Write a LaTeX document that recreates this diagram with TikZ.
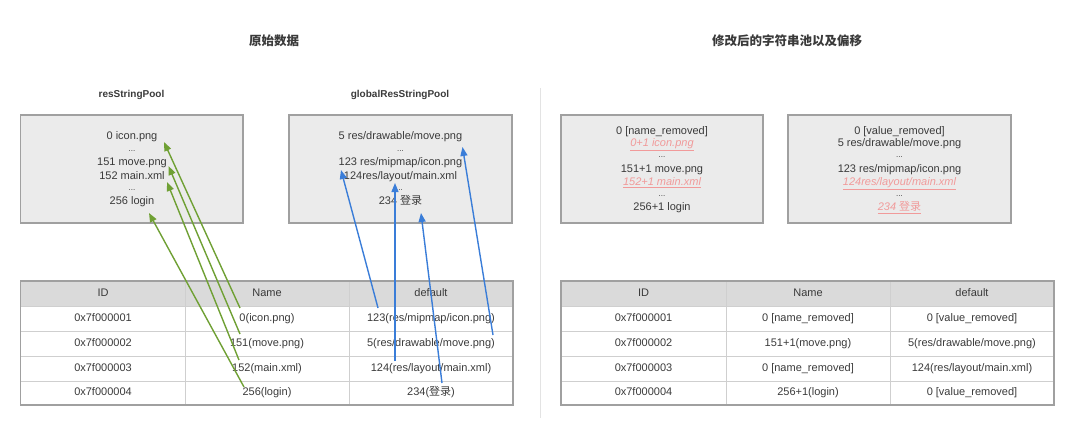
\documentclass[tikz,border=0pt]{standalone}
\usepackage{fontspec}
\setmainfont{Liberation Sans}
\newfontfamily\cjk{Noto Sans CJK SC}
\usetikzlibrary{arrows.meta}
\definecolor{poolfill}{HTML}{EBEBEB}
\definecolor{poolline}{HTML}{A0A0A0}
\definecolor{headfill}{HTML}{DADADA}
\definecolor{gridgray}{HTML}{CFCFCF}
\definecolor{txtgray}{HTML}{3A3A3A}
\definecolor{removedpink}{HTML}{F19A9A}
\definecolor{arrgreen}{HTML}{6FA034}
\definecolor{arrblue}{HTML}{3A7DD8}
\definecolor{divgray}{HTML}{E3E3E3}

\begin{document}
\begin{tikzpicture}[x=1pt, y=-1pt,
  pool/.style={draw=poolline, fill=poolfill, line width=1.5pt},
  entry/.style={text=txtgray, font=\fontsize{11}{13}\selectfont, inner sep=0pt, text height=7.8pt, text depth=2.2pt},
  ellip/.style={text=txtgray, font=\fontsize{8}{9}\selectfont, inner sep=0pt},
  removed/.style={entry, text=removedpink, font=\fontsize{11}{13}\selectfont\itshape},
  heading/.style={text=txtgray, font=\fontsize{12.5}{14}\selectfont\cjk\bfseries},
  pooltitle/.style={text=txtgray, font=\fontsize{10}{12}\selectfont\bfseries},
  gridline/.style={draw=gridgray, line width=1pt},
  tableline/.style={draw=poolline, line width=1.5pt},
  greenarrow/.style={draw=arrgreen, line width=1.4pt, -{Triangle[length=9pt,width=7pt]}},
  bluearrow/.style={draw=arrblue, line width=1.4pt, -{Triangle[length=9pt,width=7pt]}}]
\useasboundingbox (0,0) rectangle (1080,421);

\node[heading] (orig) at (274,41) {原始数据};
\node[heading] (changed) at (787,41) {修改后的字符串池以及偏移};
\draw[divgray, line width=1pt] (540,88) -- (540,418);

\node[pooltitle] (rsname) at (131.5,95) {resStringPool};
\node[pooltitle] (grname) at (400,95) {globalResStringPool};

\draw[pool] (20.7,115) rectangle (243,223);
\node[entry] (rs0) at (132,137) {0 icon.png};
\node[ellip] (rsd1) at (132,151) {...};
\node[entry] (rs151) at (132,163) {151 move.png};
\node[entry] (rs152) at (132,177) {152 main.xml};
\node[ellip] (rsd2) at (132,190) {...};
\node[entry] (rs256) at (132,202) {256 login};

\draw[pool] (289,115) rectangle (512,223);
\node[entry] (gr5) at (400.5,137) {5 res/drawable/move.png};
\node[ellip] (grd1) at (400.5,151) {...};
\node[entry] (gr123) at (400.5,163) {123 res/mipmap/icon.png};
\node[entry] (gr124) at (400.5,177) {124res/layout/main.xml};
\node[ellip] (grd2) at (400.5,190) {..};
\node[entry] (gr234) at (400.5,202) {234 {\cjk 登录}};

\draw[pool] (561,115) rectangle (763,223);
\node[entry] (nr0) at (662,132) {0 [name\_removed]};
\node[removed] (nr1) at (662,144) {\underline{0+1 icon.png}};
\node[ellip] (nrd1) at (662,157) {...};
\node[entry] (nr152) at (662,170) {151+1 move.png};
\node[removed] (nr153) at (662,183) {\underline{152+1 main.xml}};
\node[ellip] (nrd2) at (662,196) {...};
\node[entry] (nr257) at (662,208) {256+1 login};

\draw[pool] (788,115) rectangle (1011,223);
\node[entry] (vr0) at (899.5,132) {0 [value\_removed]};
\node[entry] (vr5) at (899.5,144) {5 res/drawable/move.png};
\node[ellip] (vrd1) at (899.5,157) {...};
\node[entry] (vr123) at (899.5,170) {123 res/mipmap/icon.png};
\node[removed] (vr124) at (899.5,183) {\underline{124res/layout/main.xml}};
\node[ellip] (vrd2) at (899.5,196) {...};
\node[removed] (vr234) at (899.5,208) {\underline{234 {\cjk 登录}}};

\fill[headfill] (20.7,281) rectangle (513,306.7);
\draw[gridline] (185,281) -- (185,405);
\draw[gridline] (349.5,281) -- (349.5,405);
\draw[gridline] (20.7,306.7) -- (513,306.7);
\draw[gridline] (20.7,331) -- (513,331);
\draw[gridline] (20.7,356) -- (513,356);
\draw[gridline] (20.7,381) -- (513,381);
\draw[tableline] (20.7,281) rectangle (513,405);

\node[entry] (lh1) at (103,293.5) {ID};
\node[entry] (lh2) at (267,293.5) {Name};
\node[entry] (lh3) at (431,293.5) {default};
\node[entry] (l11) at (103,318.5) {0x7f000001};
\node[entry] (l12) at (267,318.5) {0(icon.png)};
\node[entry] (l13) at (431,318.5) {123(res/mipmap/icon.png)};
\node[entry] (l21) at (103,343.5) {0x7f000002};
\node[entry] (l22) at (267,343.5) {151(move.png)};
\node[entry] (l23) at (431,343.5) {5(res/drawable/move.png)};
\node[entry] (l31) at (103,368.5) {0x7f000003};
\node[entry] (l32) at (267,368.5) {152(main.xml)};
\node[entry] (l33) at (431,368.5) {124(res/layout/main.xml)};
\node[entry] (l41) at (103,393) {0x7f000004};
\node[entry] (l42) at (267,393) {256(login)};
\node[entry] (l43) at (431,393) {234({\cjk 登录})};

\fill[headfill] (561,281) rectangle (1054,306.7);
\draw[gridline] (726,281) -- (726,405);
\draw[gridline] (890,281) -- (890,405);
\draw[gridline] (561,306.7) -- (1054,306.7);
\draw[gridline] (561,331) -- (1054,331);
\draw[gridline] (561,356) -- (1054,356);
\draw[gridline] (561,381) -- (1054,381);
\draw[tableline] (561,281) rectangle (1054,405);

\node[entry] (rh1) at (643.5,293.5) {ID};
\node[entry] (rh2) at (808,293.5) {Name};
\node[entry] (rh3) at (972,293.5) {default};
\node[entry] (r11) at (643.5,318.5) {0x7f000001};
\node[entry] (r12) at (808,318.5) {0 [name\_removed]};
\node[entry] (r13) at (972,318.5) {0 [value\_removed]};
\node[entry] (r21) at (643.5,343.5) {0x7f000002};
\node[entry] (r22) at (808,343.5) {151+1(move.png)};
\node[entry] (r23) at (972,343.5) {5(res/drawable/move.png)};
\node[entry] (r31) at (643.5,368.5) {0x7f000003};
\node[entry] (r32) at (808,368.5) {0 [name\_removed]};
\node[entry] (r33) at (972,368.5) {124(res/layout/main.xml)};
\node[entry] (r41) at (643.5,393) {0x7f000004};
\node[entry] (r42) at (808,393) {256+1(login)};
\node[entry] (r43) at (972,393) {0 [value\_removed]};

\draw[greenarrow] ([shift={(-27,-10.5)}]l12.center) -- ([shift={(32,5)}]rs0.center);
\draw[greenarrow] ([shift={(-27,-9.5)}]l22.center) -- ([shift={(36.5,3)}]rs151.center);
\draw[greenarrow] ([shift={(-28,-8.5)}]l32.center) -- ([shift={(35,5)}]rs152.center);
\draw[greenarrow] ([shift={(-23,-6)}]l42.center) -- ([shift={(17,11)}]rs256.center);

\draw[bluearrow] ([shift={(-53,-10.5)}]l13.center) -- ([shift={(-59.5,7)}]gr123.center);
\draw[bluearrow] ([shift={(-36,-7.5)}]l33.center) -- ([shift={(-5.5,6)}]gr124.center);
\draw[bluearrow] ([shift={(11,-10)}]l43.center) -- ([shift={(20.5,11)}]gr234.center);
\draw[bluearrow] ([shift={(62,-8.5)}]l23.center) -- ([shift={(62,10)}]gr5.center);
\end{tikzpicture}
\end{document}
